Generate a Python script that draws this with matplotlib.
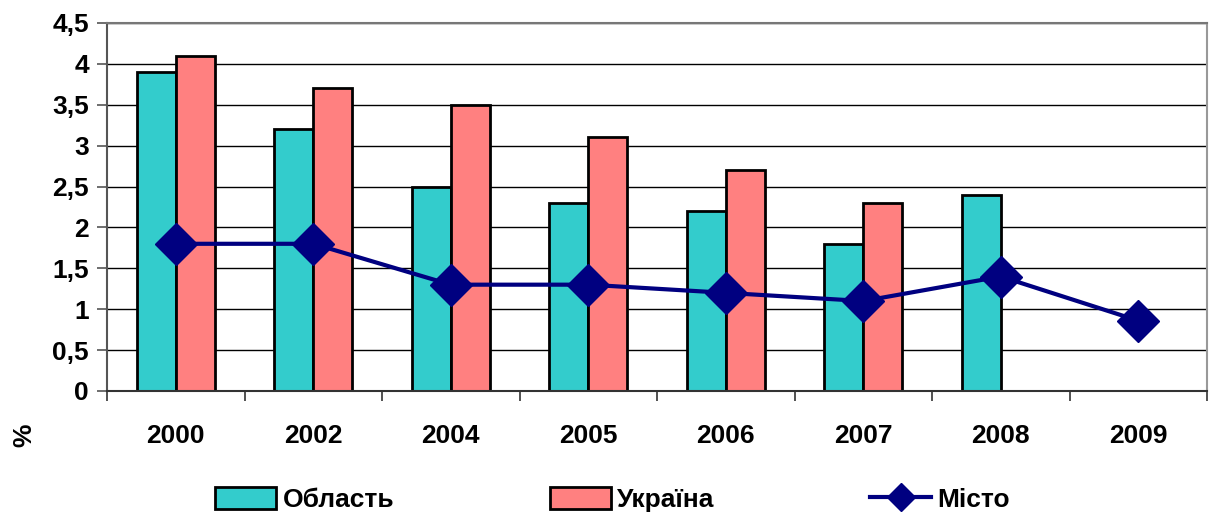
import matplotlib.pyplot as plt
import numpy as np
from matplotlib.lines import Line2D
from matplotlib.patches import Patch

plt.rcParams['font.family'] = ['Liberation Sans', 'DejaVu Sans']
plt.rcParams['font.weight'] = 'bold'

# Data
years = ['2000', '2002', '2004', '2005', '2006', '2007', '2008', '2009']
oblast = [3.9, 3.2, 2.5, 2.3, 2.2, 1.8, 2.4, np.nan]
ukraina = [4.1, 3.7, 3.5, 3.1, 2.7, 2.3, np.nan, np.nan]
misto = [1.8, 1.8, 1.3, 1.3, 1.2, 1.1, 1.4, 0.86]
yticks = [0, 0.5, 1, 1.5, 2, 2.5, 3, 3.5, 4, 4.5]
ytick_labels = ['0', '0,5', '1', '1,5', '2', '2,5', '3', '3,5', '4', '4,5']

teal = '#33CCCC'
salmon = '#FF8080'
navy = '#000080'
fs = 19

fig = plt.figure(figsize=(12.11, 5.18), dpi=100)
ax = fig.add_axes([0.0884, 0.2452, 0.9083, 0.7104])

x = np.arange(len(years))
w = 0.285

ax.bar(x - w / 2, oblast, w, color=teal, edgecolor='black', linewidth=2, zorder=2)
ax.bar(x + w / 2, ukraina, w, color=salmon, edgecolor='black', linewidth=2, zorder=2)
ax.plot(x, misto, color=navy, linewidth=3, marker='D', markersize=21,
        markeredgecolor=navy, zorder=3)

ax.set_xlim(-0.5, len(years) - 0.5)
ax.set_ylim(0, 4.5)
ax.set_yticks(yticks)
ax.set_yticklabels(ytick_labels, fontsize=fs, fontweight='bold')
ax.yaxis.grid(True, color='black', linewidth=1, zorder=0)
ax.set_axisbelow(True)

# categories between tick marks
ax.set_xticks(np.arange(len(years) + 1) - 0.5)
ax.set_xticklabels([])
ax.set_xticks(x, minor=True)
ax.set_xticklabels(years, minor=True, fontsize=fs, fontweight='bold')
ax.tick_params(axis='x', which='minor', length=0, pad=24)
ax.tick_params(axis='x', which='major', length=7, width=1.2, color='#333333')
ax.tick_params(axis='y', length=7, width=1.2, color='#555555', pad=6)

ax.spines['left'].set_color('#555555')
ax.spines['bottom'].set_color('#333333')
ax.spines['top'].set_color('#777777')
ax.spines['right'].set_color('#999999')
for s in ax.spines.values():
    s.set_linewidth(1.5)

fig.text(0.02, 0.16, '%', rotation=90, fontsize=fs, fontweight='bold',
         ha='center', va='center')

handles = [
    Patch(facecolor=teal, edgecolor='black', linewidth=2),
    Patch(facecolor=salmon, edgecolor='black', linewidth=2),
    Line2D([0], [0], color=navy, linewidth=3, marker='D', markersize=14),
]
fig.legend(handles, ['Область', 'Україна', 'Місто'], loc='center',
           bbox_to_anchor=(0.506, 0.035), ncol=3, frameon=False,
           fontsize=fs, columnspacing=5.9, handlelength=2.3, handleheight=0.9,
           handletextpad=0.25)

fig.savefig('out.png', dpi=100)
